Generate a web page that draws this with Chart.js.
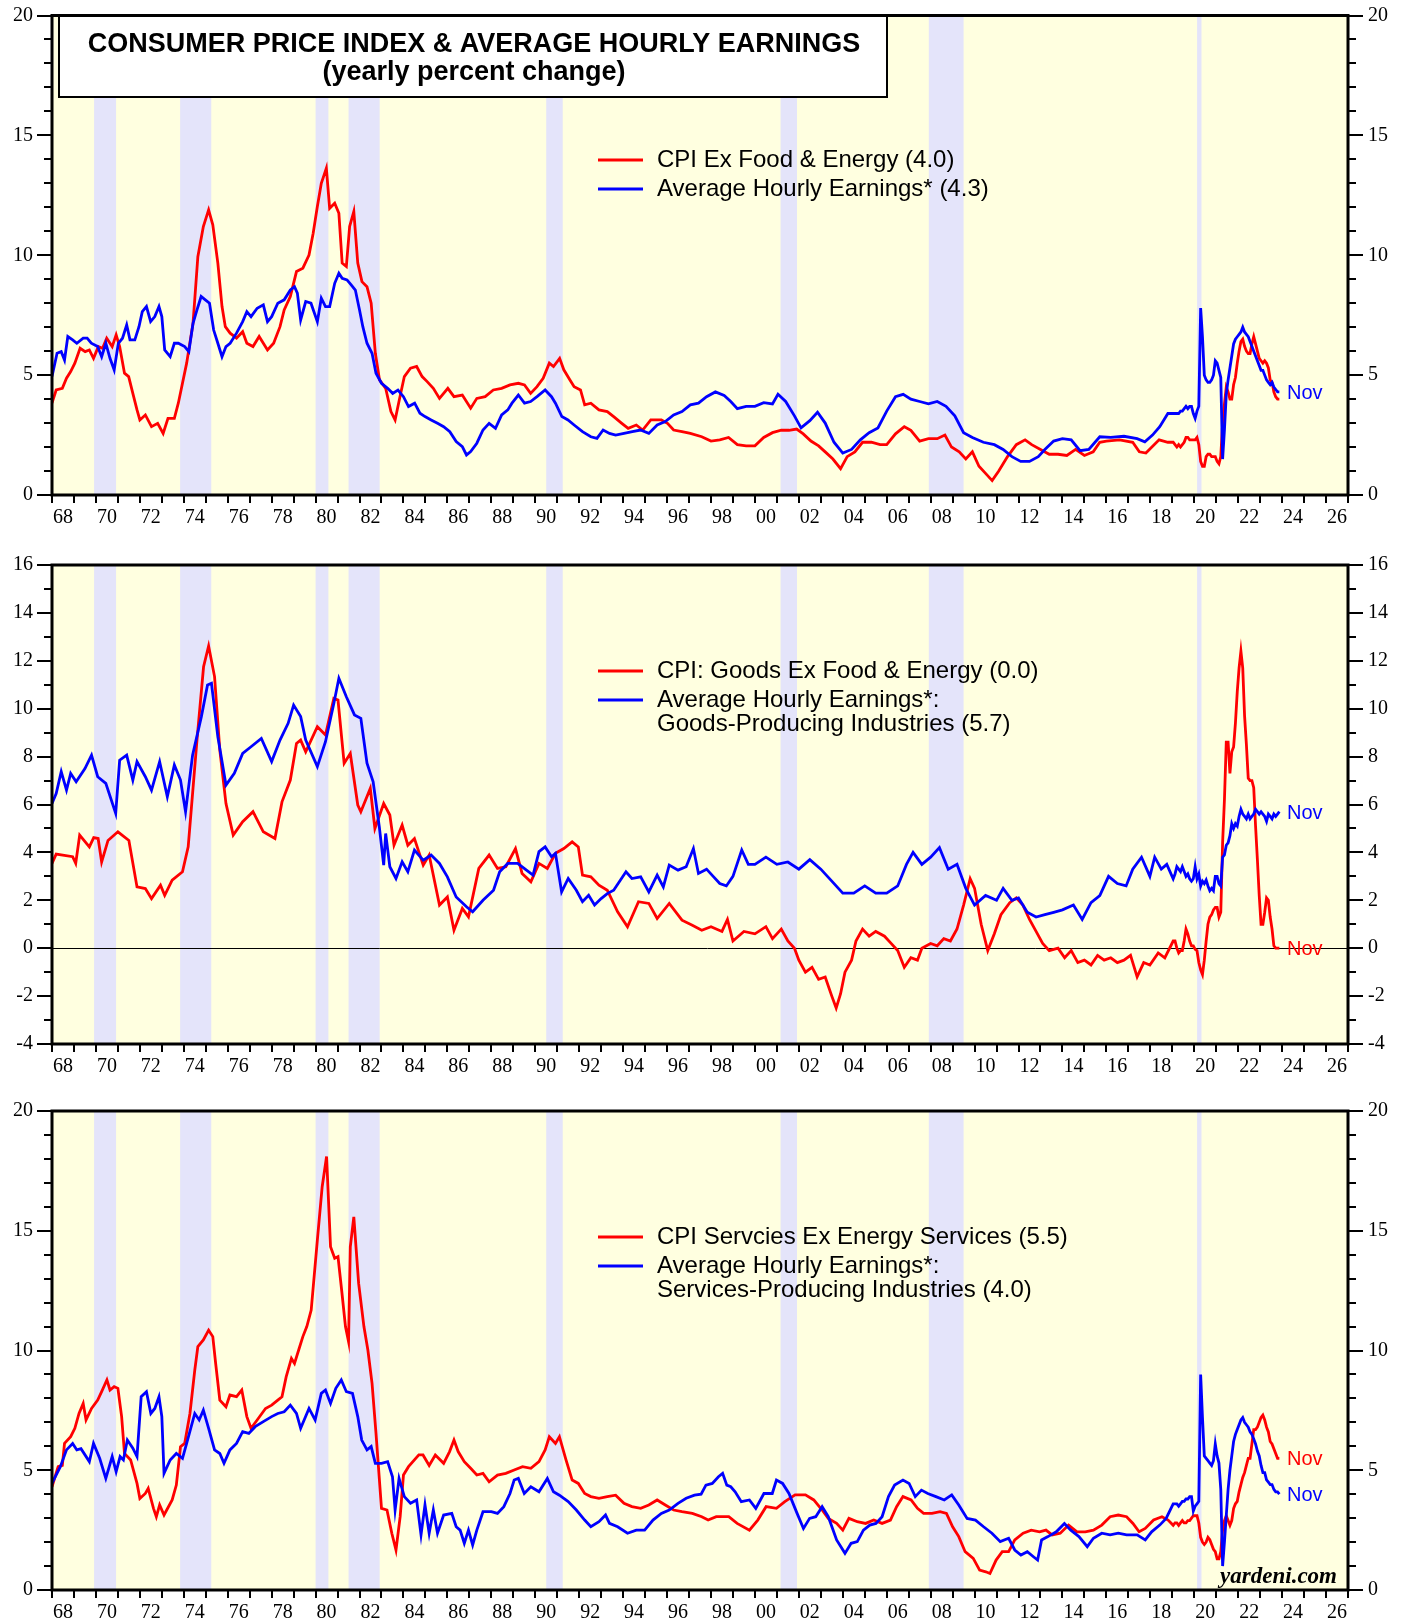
<!DOCTYPE html>
<html><head><meta charset="utf-8">
<script src="https://cdn.jsdelivr.net/npm/chart.js@4.4.0/dist/chart.umd.min.js"></script>
<style>
html,body{margin:0;padding:0;background:#fff;}
#wrap{position:relative;width:1407px;height:1623px;overflow:hidden;background:#fff;}
canvas{position:absolute;left:0;}
</style></head><body>
<div id="wrap">
<canvas id="c1" width="1407" height="540" style="top:0;width:1407px;height:540px"></canvas>
<canvas id="c2" width="1407" height="540" style="top:540px;width:1407px;height:540px"></canvas>
<canvas id="c3" width="1407" height="543" style="top:1080px;width:1407px;height:543px"></canvas>
</div>
<script>
// ---------------- DATA ----------------
const xTickYears = [1968,1970,1972,1974,1976,1978,1980,1982,1984,1986,1988,1990,1992,1994,1996,1998,2000,2002,2004,2006,2008,2010,2012,2014,2016,2018,2020,2022,2024,2026];
const xTickLabels = ['68','70','72','74','76','78','80','82','84','86','88','90','92','94','96','98','00','02','04','06','08','10','12','14','16','18','20','22','24','26'];
const yTicksPanel1 = [0,5,10,15,20];
const yTicksPanel2 = [-4,-2,0,2,4,6,8,10,12,14,16];
const yTicksPanel3 = [0,5,10,15,20];
const recessionStarts = [1969.917,1973.833,1980.0,1981.5,1990.5,2001.167,2007.917,2020.13];
const recessionEnds   = [1970.917,1975.25,1980.583,1982.917,1991.25,2001.917,2009.5,2020.33];

const recentMonths = ['2019-01','2019-02','2019-03','2019-04','2019-05','2019-06','2019-07','2019-08','2019-09','2019-10','2019-11','2019-12',
'2020-01','2020-02','2020-03','2020-04','2020-05','2020-06','2020-07','2020-08','2020-09','2020-10','2020-11','2020-12',
'2021-01','2021-02','2021-03','2021-04','2021-05','2021-06','2021-07','2021-08','2021-09','2021-10','2021-11','2021-12',
'2022-01','2022-02','2022-03','2022-04','2022-05','2022-06','2022-07','2022-08','2022-09','2022-10','2022-11','2022-12',
'2023-01','2023-02','2023-03','2023-04','2023-05','2023-06','2023-07','2023-08','2023-09','2023-10','2023-11'];

// Panel 1: CPI ex food & energy
const cpiCoreYears = [
1968.00,1968.19,1968.47,1968.66,1968.85,1969.04,1969.28,1969.51,1969.70,1969.89,
1970.11,1970.30,1970.49,1970.74,1970.92,1971.08,1971.30,1971.49,1971.68,1971.87,
1972.00,1972.25,1972.53,1972.81,1973.06,1973.28,1973.57,1973.75,1973.94,1974.13,
1974.42,1974.64,1974.89,1975.13,1975.32,1975.55,1975.74,1975.89,1976.11,1976.40,
1976.68,1976.87,1977.15,1977.43,1977.81,1978.09,1978.38,1978.57,1978.85,1979.13,
1979.42,1979.70,1979.89,1980.08,1980.26,1980.49,1980.64,1980.87,1981.06,1981.21,
1981.40,1981.55,1981.74,1981.92,1982.11,1982.34,1982.53,1982.72,1982.91,1983.19,
1983.43,1983.62,1983.81,1984.04,1984.32,1984.60,1984.85,1985.08,1985.36,1985.64,
1986.02,1986.30,1986.68,1987.06,1987.34,1987.72,1988.09,1988.47,1988.85,1989.23,
1989.51,1989.79,1990.08,1990.36,1990.64,1990.83,1991.11,1991.30,1991.58,1991.77,
1992.06,1992.25,1992.53,1992.90,1993.28,1993.57,1993.94,1994.23,1994.60,1994.89,
1995.26,1995.74,1996.02,1996.30,1996.68,1997.06,1997.58,1998.00,1998.40,1998.80,
1999.20,1999.60,2000.00,2000.40,2000.80,2001.20,2001.55,2001.90,2002.20,2002.55,
2002.90,2003.20,2003.55,2003.90,2004.20,2004.55,2004.90,2005.30,2005.70,2006.00,
2006.40,2006.80,2007.10,2007.50,2007.90,2008.30,2008.65,2008.95,2009.30,2009.60,
2009.90,2010.20,2010.50,2010.80,2011.10,2011.50,2011.90,2012.30,2012.60,2013.00,
2013.40,2013.80,2014.20,2014.60,2015.00,2015.40,2015.70,2016.00,2016.60,2017.20,
2017.50,2017.80,2018.40,2018.80];
const cpiCoreValues = [
3.83,4.38,4.45,4.87,5.15,5.50,6.12,5.98,6.05,5.70,
6.19,6.12,6.54,6.19,6.68,6.19,5.08,4.94,4.24,3.55,
3.13,3.34,2.85,2.99,2.57,3.20,3.20,3.83,4.66,5.50,
7.16,9.94,11.20,11.89,11.27,9.67,7.86,7.02,6.75,6.54,
6.81,6.33,6.19,6.61,6.05,6.33,7.02,7.72,8.28,9.32,
9.46,10.01,10.92,12.03,13.00,13.63,11.96,12.17,11.75,9.67,
9.53,11.20,11.82,9.67,8.90,8.69,8.00,5.91,4.80,4.45,
3.48,3.13,3.96,4.94,5.29,5.36,4.94,4.73,4.45,4.03,
4.45,4.10,4.17,3.62,4.03,4.10,4.38,4.45,4.59,4.66,
4.59,4.24,4.52,4.87,5.50,5.36,5.70,5.22,4.80,4.52,
4.38,3.76,3.83,3.55,3.48,3.27,2.99,2.78,2.92,2.71,
3.13,3.13,2.99,2.71,2.64,2.57,2.43,2.25,2.30,2.40,
2.10,2.05,2.05,2.40,2.60,2.70,2.70,2.75,2.55,2.25,
2.05,1.80,1.50,1.10,1.60,1.80,2.20,2.20,2.10,2.10,
2.55,2.85,2.70,2.25,2.35,2.35,2.50,2.00,1.80,1.50,
1.80,1.20,0.90,0.60,1.00,1.60,2.10,2.30,2.10,1.90,
1.70,1.70,1.65,1.90,1.65,1.80,2.20,2.25,2.30,2.20,
1.80,1.75,2.30,2.20];
const cpiCoreRecent = [
2.2,2.1,2.0,2.1,2.0,2.1,2.2,2.4,2.4,2.3,2.3,2.3,
2.3,2.4,2.1,1.4,1.2,1.2,1.6,1.7,1.7,1.6,1.6,1.6,
1.4,1.3,1.6,3.0,3.8,4.5,4.3,4.0,4.0,4.6,4.9,5.5,
6.0,6.4,6.5,6.2,6.0,5.9,5.9,6.3,6.6,6.3,6.0,5.7,
5.6,5.5,5.6,5.5,5.3,4.8,4.7,4.3,4.1,4.0,4.0];

// Panel 1: Average hourly earnings (total private)
const aheTotalYears = [
1968.00,1968.23,1968.42,1968.57,1968.72,1968.94,1969.13,1969.42,1969.60,1969.79,
1970.08,1970.26,1970.45,1970.64,1970.83,1971.02,1971.21,1971.40,1971.55,1971.77,
1971.96,1972.11,1972.30,1972.49,1972.68,1972.87,1973.00,1973.13,1973.38,1973.57,
1973.75,1974.04,1974.23,1974.42,1974.60,1974.79,1974.98,1975.17,1975.36,1975.55,
1975.74,1975.92,1976.11,1976.40,1976.68,1976.87,1977.06,1977.34,1977.62,1977.81,
1978.00,1978.28,1978.57,1978.85,1979.04,1979.17,1979.32,1979.55,1979.79,1980.08,
1980.26,1980.45,1980.64,1980.87,1981.06,1981.21,1981.43,1981.62,1981.81,1982.00,
1982.15,1982.34,1982.57,1982.75,1983.00,1983.28,1983.51,1983.75,1984.00,1984.23,
1984.51,1984.75,1984.98,1985.26,1985.55,1985.83,1986.11,1986.40,1986.68,1986.87,
1987.06,1987.34,1987.62,1987.90,1988.19,1988.47,1988.75,1988.94,1989.23,1989.51,
1989.79,1990.08,1990.45,1990.74,1990.92,1991.21,1991.49,1991.77,1992.15,1992.53,
1992.81,1993.09,1993.38,1993.66,1994.04,1994.42,1994.79,1995.17,1995.55,1995.92,
1996.30,1996.68,1997.06,1997.43,1997.80,1998.20,1998.60,1998.90,1999.20,1999.60,
2000.00,2000.40,2000.80,2001.05,2001.40,2001.80,2002.10,2002.50,2002.85,2003.20,
2003.60,2004.00,2004.40,2004.80,2005.20,2005.60,2006.00,2006.40,2006.75,2007.10,
2007.50,2007.90,2008.30,2008.70,2009.10,2009.50,2009.90,2010.40,2010.90,2011.30,
2011.70,2012.10,2012.50,2012.90,2013.20,2013.60,2014.00,2014.40,2014.80,2015.20,
2015.70,2016.20,2016.80,2017.40,2017.75,2018.10,2018.43,2018.80];
const aheTotalValues = [
4.94,5.91,5.98,5.63,6.61,6.47,6.33,6.54,6.54,6.33,
6.19,5.77,6.33,5.70,5.22,6.33,6.54,7.09,6.47,6.47,
7.02,7.65,7.86,7.23,7.44,7.86,7.44,6.05,5.77,6.33,
6.33,6.19,5.98,7.16,7.72,8.28,8.14,8.00,6.88,6.33,
5.77,6.19,6.33,6.75,7.23,7.65,7.44,7.79,7.93,7.23,
7.44,8.00,8.14,8.55,8.69,8.42,7.30,8.07,8.00,7.23,
8.21,7.86,7.86,8.83,9.25,9.04,8.97,8.76,8.55,7.72,
7.02,6.33,5.91,5.08,4.66,4.45,4.24,4.38,4.10,3.69,
3.83,3.41,3.27,3.13,2.99,2.85,2.64,2.23,2.02,1.67,
1.81,2.16,2.71,2.99,2.78,3.34,3.55,3.83,4.17,3.83,
3.90,4.10,4.38,4.10,3.83,3.27,3.13,2.92,2.64,2.43,
2.36,2.71,2.57,2.50,2.57,2.64,2.71,2.57,2.92,3.06,
3.34,3.48,3.76,3.83,4.10,4.30,4.15,3.90,3.60,3.70,
3.70,3.85,3.80,4.20,3.90,3.30,2.80,3.10,3.45,3.00,
2.20,1.75,1.90,2.30,2.60,2.80,3.50,4.10,4.20,4.00,
3.90,3.80,3.90,3.70,3.30,2.60,2.40,2.20,2.10,1.90,
1.60,1.40,1.40,1.60,1.90,2.25,2.35,2.30,1.85,1.90,
2.43,2.40,2.45,2.35,2.22,2.50,2.85,3.40];
const aheTotalRecent = [
3.4,3.4,3.4,3.4,3.5,3.5,3.6,3.7,3.6,3.7,3.7,3.4,
3.2,3.5,3.7,7.8,6.6,5.0,4.8,4.7,4.7,4.8,5.0,5.6,
5.5,5.2,4.9,1.5,2.7,4.2,4.8,5.3,5.8,6.3,6.5,6.6,
6.7,6.8,7.0,6.8,6.7,6.6,6.4,6.2,6.0,5.8,5.6,5.4,
5.2,5.2,5.0,4.8,4.7,4.6,4.7,4.5,4.4,4.3,4.3];

// Panel 2: CPI goods ex food & energy
const cpiGoodsYears = [
1968.00,1968.19,1968.94,1969.08,1969.26,1969.70,1969.90,1970.10,1970.26,1970.55,
1971.00,1971.50,1971.87,1972.25,1972.53,1972.94,1973.13,1973.47,1973.94,1974.20,
1974.60,1974.90,1975.13,1975.40,1975.64,1975.92,1976.25,1976.68,1977.15,1977.62,
1978.15,1978.47,1978.85,1979.13,1979.32,1979.55,1980.08,1980.45,1980.83,1981.02,
1981.30,1981.58,1981.92,1982.06,1982.49,1982.70,1983.10,1983.38,1983.57,1983.94,
1984.20,1984.50,1984.90,1985.17,1985.64,1986.00,1986.30,1986.68,1986.96,1987.43,
1987.90,1988.28,1988.66,1989.10,1989.40,1989.80,1990.17,1990.55,1990.92,1991.30,
1991.68,1991.96,1992.15,1992.53,1992.90,1993.28,1993.75,1994.20,1994.70,1995.17,
1995.55,1996.10,1996.68,1997.15,1997.58,1998.00,1998.50,1998.75,1999.00,1999.50,
2000.00,2000.50,2000.80,2001.20,2001.50,2001.80,2002.00,2002.30,2002.60,2002.90,
2003.20,2003.50,2003.70,2003.90,2004.10,2004.40,2004.60,2004.90,2005.20,2005.50,
2005.90,2006.20,2006.50,2006.80,2007.10,2007.40,2007.60,2008.00,2008.30,2008.60,
2008.90,2009.20,2009.50,2009.80,2010.00,2010.30,2010.60,2010.90,2011.20,2011.60,
2011.90,2012.20,2012.50,2012.80,2013.10,2013.40,2013.80,2014.10,2014.40,2014.70,
2015.00,2015.30,2015.60,2015.90,2016.20,2016.50,2016.80,2017.10,2017.40,2017.70,
2017.98,2018.36,2018.66];
const cpiGoodsValues = [
3.54,3.93,3.82,3.54,4.72,4.23,4.62,4.58,3.60,4.50,
4.86,4.50,2.56,2.49,2.07,2.63,2.21,2.84,3.19,4.23,
8.69,11.75,12.62,11.34,8.27,6.04,4.72,5.28,5.70,4.86,
4.58,6.11,7.02,8.55,8.69,8.20,9.25,8.90,10.43,10.36,
7.72,8.13,5.98,5.70,6.67,5.00,6.04,5.56,4.30,5.14,
4.30,4.58,3.47,3.89,1.80,2.14,0.75,1.66,1.31,3.33,
3.89,3.33,3.40,4.16,3.12,2.77,3.54,3.33,3.96,4.16,
4.44,4.23,3.05,2.98,2.63,2.42,1.52,0.89,1.94,1.87,
1.24,1.87,1.17,0.96,0.75,0.90,0.70,1.20,0.30,0.70,
0.60,0.90,0.40,0.80,0.30,0.00,-0.50,-1.00,-0.80,-1.30,
-1.20,-2.00,-2.50,-1.90,-1.00,-0.50,0.30,0.80,0.50,0.70,
0.50,0.20,-0.10,-0.80,-0.40,-0.50,0.00,0.20,0.10,0.40,
0.30,0.80,1.80,2.90,2.50,1.00,-0.10,0.60,1.40,1.90,
2.10,1.80,1.20,0.70,0.20,-0.10,0.00,-0.40,-0.10,-0.60,
-0.50,-0.70,-0.30,-0.50,-0.40,-0.60,-0.50,-0.30,-1.20,-0.60,
-0.70,-0.20,-0.40];
const cpiGoodsRecent = [
0.3,0.3,0.0,-0.2,-0.1,-0.1,0.3,0.8,0.6,0.3,0.1,0.1,
-0.05,-0.1,-0.6,-0.9,-1.1,-0.5,0.3,1.0,1.3,1.4,1.6,1.7,
1.7,1.3,1.5,4.4,6.2,8.6,8.6,7.3,8.2,8.4,9.4,10.7,
11.7,12.4,11.7,9.7,8.5,7.1,7.0,7.0,6.7,5.1,3.7,2.2,
1.0,1.0,1.5,2.1,2.0,1.3,0.8,0.1,0.0,0.0,0.0];

// Panel 2: AHE goods-producing industries
const aheGoodsYears = [
1968.00,1968.19,1968.42,1968.66,1968.85,1969.10,1969.50,1969.80,1970.08,1970.45,
1970.90,1971.08,1971.40,1971.68,1971.87,1972.25,1972.53,1972.90,1973.25,1973.57,
1973.85,1974.08,1974.40,1974.80,1975.08,1975.26,1975.55,1975.92,1976.30,1976.68,
1977.06,1977.53,1978.00,1978.38,1978.75,1979.00,1979.32,1979.55,1980.08,1980.45,
1980.83,1981.06,1981.40,1981.77,1982.06,1982.34,1982.62,1982.90,1983.10,1983.19,
1983.38,1983.66,1983.94,1984.20,1984.50,1984.90,1985.26,1985.64,1986.00,1986.40,
1986.87,1987.15,1987.62,1988.10,1988.38,1988.75,1989.20,1989.60,1989.90,1990.17,
1990.45,1990.74,1990.92,1991.20,1991.50,1991.87,1992.15,1992.43,1992.70,1993.00,
1993.28,1993.57,1994.13,1994.40,1994.80,1995.17,1995.55,1995.83,1996.10,1996.50,
1996.87,1997.20,1997.43,1997.80,1998.10,1998.40,1998.70,1999.00,1999.40,1999.70,
2000.00,2000.50,2001.00,2001.50,2002.00,2002.50,2003.00,2003.50,2004.00,2004.50,
2005.00,2005.50,2006.00,2006.50,2006.90,2007.20,2007.60,2008.00,2008.40,2008.80,
2009.20,2009.60,2010.00,2010.50,2011.00,2011.30,2011.70,2012.00,2012.40,2012.80,
2013.20,2013.60,2014.00,2014.50,2014.90,2015.30,2015.70,2016.10,2016.50,2016.90,
2017.20,2017.60,2017.98,2018.20,2018.50,2018.75];
const aheGoodsValues = [
6.04,6.46,7.37,6.60,7.30,6.95,7.50,8.06,7.16,6.88,
5.63,7.85,8.06,7.02,7.79,7.16,6.60,7.79,6.32,7.65,
7.02,5.70,8.06,9.67,10.99,11.06,8.83,6.81,7.30,8.13,
8.41,8.76,7.79,8.69,9.39,10.15,9.67,8.69,7.58,8.62,
10.22,11.27,10.50,9.74,9.60,7.72,6.95,5.07,3.47,4.79,
3.40,2.91,3.61,3.19,4.10,3.68,3.89,3.54,2.98,2.14,
1.73,1.52,2.00,2.42,3.19,3.54,3.54,3.26,3.05,4.03,
4.23,3.82,3.96,2.35,2.91,2.42,1.94,2.21,1.80,2.07,
2.28,2.42,3.19,2.91,2.98,2.35,3.05,2.56,3.47,3.26,
3.40,4.16,3.12,3.30,3.00,2.70,2.60,3.00,4.10,3.50,
3.50,3.80,3.50,3.60,3.30,3.70,3.30,2.80,2.30,2.30,
2.60,2.30,2.30,2.60,3.50,4.00,3.50,3.80,4.20,3.30,
3.50,2.50,1.80,2.20,2.00,2.50,2.00,2.10,1.50,1.30,
1.40,1.50,1.60,1.80,1.20,1.90,2.20,3.00,2.70,2.60,
3.30,3.80,3.00,3.80,3.30,3.50];
const aheGoodsRecent = [
2.9,3.1,3.4,3.3,3.2,3.4,3.2,3.0,3.1,2.9,2.8,2.9,
3.4,2.9,3.1,2.6,2.8,2.7,2.85,2.6,2.4,2.5,2.4,3.0,
3.0,2.7,2.6,3.8,3.9,4.3,4.4,4.7,5.2,5.0,5.2,5.1,
5.5,5.8,5.6,5.5,5.4,5.6,5.4,5.5,5.6,5.8,5.7,5.6,
5.7,5.6,5.5,5.3,5.6,5.5,5.4,5.6,5.5,5.6,5.7];

// Panel 3: CPI services ex energy services
const cpiServYears = [
1968.00,1968.28,1968.47,1968.57,1968.85,1969.04,1969.23,1969.42,1969.55,1969.80,
1970.08,1970.26,1970.50,1970.64,1970.83,1971.00,1971.17,1971.30,1971.58,1971.87,
1972.00,1972.25,1972.38,1972.62,1972.75,1972.90,1973.10,1973.47,1973.66,1973.85,
1974.04,1974.28,1974.50,1974.64,1974.89,1975.13,1975.32,1975.45,1975.64,1975.92,
1976.10,1976.40,1976.64,1976.87,1977.06,1977.34,1977.72,1978.00,1978.28,1978.47,
1978.66,1978.90,1979.04,1979.23,1979.42,1979.60,1979.80,1980.08,1980.30,1980.50,
1980.68,1980.87,1981.02,1981.20,1981.36,1981.50,1981.58,1981.74,1981.96,1982.20,
1982.38,1982.57,1982.75,1983.00,1983.25,1983.47,1983.66,1983.85,1984.00,1984.23,
1984.70,1984.89,1985.17,1985.45,1985.83,1986.10,1986.30,1986.49,1986.77,1987.06,
1987.34,1987.62,1987.90,1988.28,1988.66,1989.04,1989.42,1989.80,1990.17,1990.45,
1990.64,1990.92,1991.10,1991.40,1991.68,1991.96,1992.25,1992.53,1992.90,1993.28,
1993.66,1994.04,1994.40,1994.80,1995.17,1995.55,1995.92,1996.30,1996.68,1997.15,
1997.58,1997.87,1998.24,1998.81,1999.19,1999.75,2000.13,2000.51,2000.98,2001.36,
2001.83,2002.30,2002.68,2003.06,2003.34,2003.72,2004.00,2004.28,2004.66,2005.04,
2005.41,2005.79,2006.17,2006.45,2006.74,2007.11,2007.40,2007.68,2008.06,2008.43,
2008.72,2009.00,2009.28,2009.57,2009.94,2010.23,2010.51,2010.70,2010.98,2011.26,
2011.55,2011.83,2012.21,2012.58,2012.96,2013.25,2013.53,2013.90,2014.28,2014.66,
2015.04,2015.41,2015.79,2016.17,2016.54,2016.92,2017.21,2017.49,2017.77,2018.15,
2018.53,2018.81];
const cpiServValues = [
4.31,5.15,5.20,6.12,6.40,6.75,7.37,7.79,7.10,7.58,
7.93,8.28,8.77,8.35,8.49,8.42,7.24,5.70,5.43,4.45,
3.82,4.03,4.24,3.41,3.06,3.55,3.13,3.76,4.38,5.98,
6.12,7.37,9.18,10.16,10.44,10.85,10.58,9.46,7.93,7.65,
8.14,8.07,8.35,7.24,6.75,7.10,7.58,7.72,7.93,8.07,
8.90,9.67,9.46,10.02,10.58,11.00,11.69,14.61,16.84,18.10,
14.33,13.85,13.92,12.40,11.00,10.37,14.33,15.58,12.80,11.00,
10.02,8.63,6.54,3.41,3.34,2.37,1.67,3.06,4.80,5.15,
5.64,5.64,5.20,5.64,5.29,5.78,6.26,5.78,5.36,5.08,
4.80,4.87,4.52,4.80,4.87,5.01,5.15,5.08,5.36,5.85,
6.40,6.12,6.40,5.43,4.59,4.45,4.03,3.90,3.83,3.90,
3.96,3.62,3.48,3.41,3.55,3.76,3.55,3.34,3.27,3.20,
3.06,2.92,3.06,3.06,2.78,2.50,2.92,3.48,3.41,3.69,
3.97,3.97,3.76,3.34,2.99,2.78,2.50,2.99,2.85,2.78,
2.92,2.78,2.92,3.48,3.90,3.76,3.41,3.20,3.20,3.27,
3.20,2.64,2.23,1.60,1.32,0.83,0.76,0.69,1.25,1.60,
1.60,2.09,2.37,2.50,2.43,2.50,2.30,2.37,2.71,2.43,
2.43,2.50,2.71,3.06,3.13,3.06,2.78,2.43,2.57,2.92,
3.06,2.92];
const cpiServRecent = [
2.7,2.8,2.8,2.7,2.8,2.9,2.8,2.8,2.9,2.9,3.0,3.1,
3.1,3.1,2.8,2.2,2.0,1.9,2.0,2.2,2.1,1.9,1.7,1.6,
1.3,1.3,1.6,2.5,2.9,3.1,2.9,2.7,2.9,3.4,3.6,3.7,
4.1,4.4,4.7,4.9,5.2,5.5,5.5,6.1,6.7,6.7,6.8,7.0,
7.2,7.3,7.1,6.8,6.6,6.2,6.1,5.9,5.7,5.5,5.5];

// Panel 3: AHE services-producing industries
const aheServYears = [
1968.00,1968.38,1968.66,1968.94,1969.13,1969.32,1969.70,1969.89,1970.17,1970.45,
1970.74,1970.92,1971.10,1971.25,1971.43,1971.68,1971.87,1972.06,1972.30,1972.50,
1972.68,1972.87,1973.00,1973.10,1973.38,1973.66,1973.94,1974.13,1974.50,1974.70,
1974.89,1975.13,1975.40,1975.64,1975.83,1976.10,1976.40,1976.68,1976.96,1977.25,
1977.62,1978.00,1978.28,1978.57,1978.85,1979.13,1979.32,1979.70,1979.98,1980.26,
1980.45,1980.68,1980.92,1981.17,1981.40,1981.68,1981.92,1982.10,1982.34,1982.53,
1982.72,1983.00,1983.28,1983.50,1983.62,1983.80,1984.04,1984.32,1984.60,1984.80,
1984.98,1985.17,1985.36,1985.55,1985.83,1986.20,1986.40,1986.58,1986.77,1986.96,
1987.15,1987.34,1987.62,1988.00,1988.28,1988.57,1988.85,1989.04,1989.23,1989.50,
1989.80,1990.17,1990.55,1990.83,1991.10,1991.50,1991.87,1992.25,1992.53,1992.90,
1993.20,1993.38,1993.75,1994.20,1994.60,1994.98,1995.36,1995.74,1996.10,1996.50,
1996.87,1997.25,1997.55,1997.77,1998.06,1998.34,1998.53,1998.72,1998.90,1999.10,
1999.38,1999.75,2000.04,2000.41,2000.79,2000.98,2001.26,2001.55,2001.92,2002.21,
2002.49,2002.77,2003.06,2003.34,2003.72,2004.10,2004.38,2004.66,2004.94,2005.23,
2005.51,2005.79,2006.08,2006.36,2006.74,2007.02,2007.30,2007.58,2007.87,2008.24,
2008.62,2008.96,2009.28,2009.66,2010.04,2010.41,2010.79,2011.17,2011.55,2011.83,
2012.11,2012.40,2012.68,2012.87,2013.05,2013.34,2013.72,2014.09,2014.38,2014.75,
2015.13,2015.41,2015.79,2016.17,2016.54,2016.92,2017.40,2017.77,2018.06,2018.43,
2018.72];
const aheServValues = [
4.45,5.15,5.85,6.12,5.85,5.90,5.36,6.12,5.50,4.66,
5.57,4.94,5.57,5.43,6.26,5.92,5.57,8.07,8.28,7.37,
7.58,8.07,7.24,4.87,5.43,5.70,5.50,6.12,7.37,7.10,
7.51,6.75,5.85,5.70,5.29,5.85,6.12,6.61,6.54,6.82,
7.03,7.24,7.37,7.44,7.72,7.37,6.75,7.58,7.10,8.21,
8.35,7.79,8.42,8.77,8.28,8.21,7.24,6.26,5.85,5.99,
5.29,5.29,5.36,4.73,3.34,4.66,3.90,3.62,3.76,2.30,
3.55,2.37,3.34,2.37,3.13,3.20,2.64,2.50,1.95,2.50,
1.88,2.50,3.27,3.27,3.20,3.48,4.03,4.59,4.66,4.03,
4.31,4.10,4.66,4.10,3.96,3.69,3.34,2.92,2.64,2.85,
3.13,2.78,2.64,2.37,2.50,2.50,2.92,3.20,3.34,3.62,
3.83,3.96,4.00,4.38,4.45,4.73,4.87,4.38,4.31,4.10,
3.69,3.76,3.41,4.03,4.03,4.59,4.45,4.03,3.20,2.57,
2.99,3.06,3.48,3.06,2.09,1.53,1.95,2.02,2.50,2.71,
2.78,3.06,3.90,4.38,4.59,4.45,3.90,4.17,4.03,3.90,
3.76,3.97,3.55,2.99,2.92,2.64,2.37,2.02,2.16,1.67,
1.46,1.60,1.39,1.25,2.09,2.23,2.43,2.78,2.50,2.23,
1.81,2.16,2.37,2.30,2.37,2.30,2.30,2.09,2.43,2.71,
2.99];
const aheServRecent = [
3.6,3.6,3.6,3.5,3.6,3.7,3.7,3.8,3.8,3.9,3.9,3.3,
3.5,3.6,3.7,9.0,7.2,5.6,5.5,5.4,5.3,5.2,5.4,6.1,
5.6,5.3,4.2,1.0,2.0,3.1,4.2,5.0,5.6,6.2,6.5,6.7,
6.9,7.1,7.2,7.0,6.9,6.8,6.6,6.5,6.3,6.1,5.8,5.6,
5.2,4.9,4.9,4.6,4.5,4.4,4.4,4.2,4.1,4.1,4.0];

// ---------------- DRAWING ----------------
const SANS = '"Liberation Sans", Arial, Helvetica, sans-serif';
const SERIF = '"Liberation Serif", "Times New Roman", serif';
const RED = '#FF0000', BLUE = '#0000FF';

function buildSeries(years, values, recent) {
  const n = Math.min(years.length, values.length);
  const pts = [];
  for (let i = 0; i < n; i++) pts.push({x: years[i], y: values[i]});
  recentMonths.forEach((m, i) => {
    const p = m.split('-').map(Number);
    pts.push({x: p[0] + (p[1] - 0.5) / 12, y: recent[i]});
  });
  return pts;
}

const decoPlugin = {
  id: 'deco',
  beforeDatasetsDraw(chart) {
    const o = chart.options.plugins.deco;
    const ctx = chart.ctx, a = chart.chartArea, xs = chart.scales.x, ys = chart.scales.y;
    ctx.save();
    ctx.fillStyle = '#FFFFE0';
    ctx.fillRect(a.left, a.top, a.right - a.left, a.bottom - a.top);
    ctx.fillStyle = '#E4E4FA';
    for (let i = 0; i < recessionStarts.length; i++) {
      const x0 = xs.getPixelForValue(recessionStarts[i]);
      const x1 = xs.getPixelForValue(recessionEnds[i]);
      ctx.fillRect(x0, a.top, x1 - x0, a.bottom - a.top);
    }
    if (o.zeroLine) {
      const yz = Math.round(ys.getPixelForValue(0)) + 0.5;
      ctx.strokeStyle = '#000'; ctx.lineWidth = 1;
      ctx.beginPath(); ctx.moveTo(a.left, yz); ctx.lineTo(a.right + 15, yz); ctx.stroke();
    }
    ctx.restore();
  },
  afterDatasetsDraw(chart) {
    const o = chart.options.plugins.deco;
    const ctx = chart.ctx, a = chart.chartArea, xs = chart.scales.x, ys = chart.scales.y;
    ctx.save();
    // title box
    if (o.title) {
      ctx.fillStyle = '#fff';
      ctx.fillRect(59, a.top, 828, 97 - a.top);
      ctx.strokeStyle = '#000'; ctx.lineWidth = 2;
      ctx.strokeRect(59, a.top, 828, 97 - a.top);
      ctx.fillStyle = '#000';
      ctx.font = 'bold 27px ' + SANS;
      ctx.textAlign = 'center'; ctx.textBaseline = 'middle';
      ctx.fillText(o.title[0], 474, 45);
      ctx.fillText(o.title[1], 474, 73);
    }
    // frame
    ctx.strokeStyle = '#000'; ctx.lineWidth = 3;
    ctx.strokeRect(a.left, a.top, a.right - a.left, a.bottom - a.top);
    // y ticks
    ctx.lineWidth = 2;
    for (let v = o.min; v <= o.max; v += 1) {
      const py = Math.round(ys.getPixelForValue(v));
      const major = Math.abs(v % o.major) < 1e-6;
      const len = major ? 15 : 8;
      ctx.beginPath();
      ctx.moveTo(a.left - 1, py); ctx.lineTo(a.left - len, py);
      ctx.moveTo(a.right + 1, py); ctx.lineTo(a.right + len, py);
      ctx.stroke();
    }
    // x ticks
    for (let yr = 1968; yr <= 2027; yr++) {
      const px = Math.round(xs.getPixelForValue(yr));
      ctx.beginPath(); ctx.moveTo(px, a.bottom + 1); ctx.lineTo(px, a.bottom + 8); ctx.stroke();
    }
    // y labels
    ctx.fillStyle = '#000';
    ctx.font = '20px ' + SERIF;
    ctx.textBaseline = 'middle';
    o.yLabels.forEach(v => {
      const py = ys.getPixelForValue(v);
      ctx.textAlign = 'right'; ctx.fillText(String(v), a.left - 19, py);
      ctx.textAlign = 'left'; ctx.fillText(String(v), a.right + 20, py);
    });
    // x labels
    ctx.textAlign = 'center';
    xTickYears.forEach((yr, i) => {
      ctx.fillText(xTickLabels[i], xs.getPixelForValue(yr + 0.5), a.bottom + 23);
    });
    // legend
    let ly = a.top + o.legendTop;
    ctx.font = '24px ' + SANS;
    ctx.textAlign = 'left';
    o.legend.forEach(ent => {
      ctx.strokeStyle = ent.color; ctx.lineWidth = 3;
      ctx.beginPath(); ctx.moveTo(598, ly); ctx.lineTo(643, ly); ctx.stroke();
      ctx.fillStyle = '#000';
      ent.text.forEach((t, k) => { ctx.fillText(t, 657, ly + k * 24); });
      ly += 29 + (ent.text.length - 1) * 24;
    });
    // Nov labels
    ctx.font = '20px ' + SANS;
    o.nov.forEach(nv => {
      const ds = chart.data.datasets[nv.ds].data;
      const last = ds[ds.length - 1];
      ctx.fillStyle = nv.color;
      ctx.fillText('Nov', 1287, ys.getPixelForValue(last.y) + 1.5);
    });
    if (o.credit) {
      ctx.fillStyle = '#000';
      ctx.font = 'italic bold 23px ' + SERIF;
      ctx.textAlign = 'right'; ctx.textBaseline = 'alphabetic';
      ctx.fillText('yardeni.com', 1337, a.bottom - 7);
    }
    ctx.restore();
  }
};

function makeChart(id, cfg) {
  const yScale = (pos, w) => ({
    position: pos, min: cfg.min, max: cfg.max,
    ticks: {display: false}, grid: {display: false, drawTicks: false}, border: {display: false},
    afterFit(s) { s.width = w; }
  });
  return new Chart(document.getElementById(id), {
    type: 'line',
    data: {datasets: [
      {data: cfg.red, borderColor: RED, borderWidth: 2.8, pointRadius: 0, tension: 0, order: 2, yAxisID: 'y'},
      {data: cfg.blue, borderColor: BLUE, borderWidth: 2.8, pointRadius: 0, tension: 0, order: 1, yAxisID: 'y'}
    ]},
    options: {
      responsive: false, animation: false, devicePixelRatio: 1,
      layout: {padding: {top: cfg.top, bottom: 0, left: 0, right: 0}},
      plugins: {legend: {display: false}, tooltip: {enabled: false}, deco: cfg.deco},
      scales: {
        x: {type: 'linear', min: 1968, max: 2027, ticks: {display: false},
            grid: {display: false, drawTicks: false}, border: {display: false},
            afterFit(s) { s.height = cfg.xh; }},
        y: yScale('left', 52),
        y2: yScale('right', 59)
      }
    },
    plugins: [decoPlugin]
  });
}

makeChart('c1', {
  min: 0, max: 20, top: 15.5, xh: 45,
  red: buildSeries(cpiCoreYears, cpiCoreValues, cpiCoreRecent),
  blue: buildSeries(aheTotalYears, aheTotalValues, aheTotalRecent),
  deco: {min: 0, max: 20, major: 5, yLabels: yTicksPanel1, zeroLine: false,
    title: ['CONSUMER PRICE INDEX & AVERAGE HOURLY EARNINGS', '(yearly percent change)'],
    legendTop: 144.5,
    legend: [{color: RED, text: ['CPI Ex Food & Energy (4.0)']},
             {color: BLUE, text: ['Average Hourly Earnings* (4.3)']}],
    nov: [{ds: 1, color: BLUE}], credit: false}
});
makeChart('c2', {
  min: -4, max: 16, top: 25, xh: 36,
  red: buildSeries(cpiGoodsYears, cpiGoodsValues, cpiGoodsRecent),
  blue: buildSeries(aheGoodsYears, aheGoodsValues, aheGoodsRecent),
  deco: {min: -4, max: 16, major: 2, yLabels: yTicksPanel2, zeroLine: true, title: null,
    legendTop: 106,
    legend: [{color: RED, text: ['CPI: Goods Ex Food & Energy (0.0)']},
             {color: BLUE, text: ['Average Hourly Earnings*:', 'Goods-Producing Industries (5.7)']}],
    nov: [{ds: 1, color: BLUE}, {ds: 0, color: RED}], credit: false}
});
makeChart('c3', {
  min: 0, max: 20, top: 31, xh: 33,
  red: buildSeries(cpiServYears, cpiServValues, cpiServRecent),
  blue: buildSeries(aheServYears, aheServValues, aheServRecent),
  deco: {min: 0, max: 20, major: 5, yLabels: yTicksPanel3, zeroLine: false, title: null,
    legendTop: 126,
    legend: [{color: RED, text: ['CPI Servcies Ex Energy Services (5.5)']},
             {color: BLUE, text: ['Average Hourly Earnings*:', 'Services-Producing Industries (4.0)']}],
    nov: [{ds: 0, color: RED}, {ds: 1, color: BLUE}], credit: true}
});
</script>
</body></html>
